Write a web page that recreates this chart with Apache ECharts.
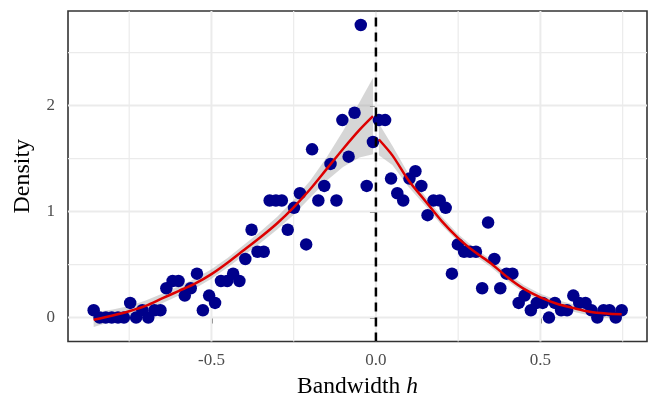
<!DOCTYPE html>
<html><head><meta charset="utf-8">
<script src="https://cdn.jsdelivr.net/npm/echarts@6/dist/echarts.min.js"></script>
<style>html,body{margin:0;padding:0;background:#fff}#c{width:650px;height:398px}</style>
</head><body><div id="c"></div>
<script>
// ---- data ----
const leftX = [-0.858,-0.840,-0.821,-0.803,-0.784,-0.766,-0.747,-0.729,-0.710,-0.692,-0.673,-0.655,-0.637,-0.618,-0.600,-0.581,-0.563,-0.544,-0.526,-0.507,-0.489,-0.471,-0.452,-0.434,-0.415,-0.397,-0.378,-0.360,-0.341,-0.323,-0.304,-0.286,-0.268,-0.249,-0.231,-0.212,-0.194,-0.175,-0.157,-0.138,-0.120,-0.102,-0.083,-0.065,-0.046,-0.028,-0.009];
const leftDensity = [0.069,0,0,0,0,0,0.138,0,0.069,0,0.069,0.069,0.276,0.345,0.345,0.207,0.276,0.414,0.069,0.207,0.138,0.345,0.345,0.414,0.345,0.552,0.828,0.621,0.621,1.104,1.104,1.104,0.828,1.035,1.173,0.690,1.587,1.104,1.242,1.449,1.104,1.863,1.518,1.932,2.760,1.242,1.656];
const rightX = [0.009,0.028,0.046,0.065,0.083,0.102,0.120,0.138,0.157,0.175,0.194,0.212,0.231,0.249,0.268,0.286,0.304,0.323,0.341,0.360,0.378,0.397,0.415,0.434,0.452,0.471,0.489,0.507,0.526,0.544,0.563,0.581,0.600,0.618,0.637,0.655,0.673,0.692,0.710,0.729,0.747];
const rightDensity = [1.863,1.863,1.311,1.173,1.104,1.311,1.380,1.242,0.966,1.104,1.104,1.035,0.414,0.690,0.621,0.621,0.621,0.276,0.897,0.552,0.276,0.414,0.414,0.138,0.207,0.069,0.138,0.138,0,0.138,0.069,0.069,0.207,0.138,0.138,0.069,0,0.069,0.069,0,0.069];

const leftFitX = [-0.858,-0.80,-0.75,-0.70,-0.65,-0.60,-0.55,-0.50,-0.45,-0.40,-0.35,-0.30,-0.25,-0.20,-0.15,-0.10,-0.05,-0.009];
const leftFitY = [-0.02,0.02,0.06,0.11,0.18,0.25,0.32,0.41,0.52,0.64,0.76,0.89,1.04,1.21,1.40,1.59,1.77,1.90];
const leftFitHalf = [0.07,0.055,0.05,0.05,0.045,0.045,0.045,0.045,0.045,0.05,0.055,0.06,0.07,0.08,0.11,0.17,0.26,0.36];
const rightFitX = [0.009,0.05,0.10,0.15,0.20,0.25,0.30,0.35,0.40,0.45,0.50,0.55,0.60,0.65,0.70,0.747];
const rightFitY = [1.68,1.53,1.29,1.10,0.91,0.75,0.62,0.51,0.38,0.27,0.19,0.13,0.09,0.055,0.038,0.03];
const rightFitHalf = [0.15,0.09,0.06,0.045,0.04,0.035,0.035,0.035,0.035,0.035,0.035,0.035,0.035,0.035,0.04,0.05];

const xMajor = [-0.5, 0, 0.5];
const xMinor = [-0.75, -0.25, 0.25, 0.75];
const yMajor = [0, 1, 2];
const yMinor = [0.5, 1.5, 2.5];
const xRange = [-0.936, 0.824];
const yRange = [-0.226, 2.892];

// ---- build ----
const gridLines = [];
xMajor.forEach(v => gridLines.push({d: 'x', v: v, w: 2}));
xMinor.forEach(v => gridLines.push({d: 'x', v: v, w: 1.2}));
yMajor.forEach(v => gridLines.push({d: 'y', v: v, w: 2}));
yMinor.forEach(v => gridLines.push({d: 'y', v: v, w: 1.2}));

function bandItem(xs, ys, hs) {
  return function (params, api) {
    const pts = [];
    for (let i = 0; i < xs.length; i++) pts.push(api.coord([xs[i], ys[i] + hs[i]]));
    for (let i = xs.length - 1; i >= 0; i--) pts.push(api.coord([xs[i], ys[i] - hs[i]]));
    return {type: 'polygon', shape: {points: pts}, style: {fill: 'rgba(153,153,153,0.4)'}, silent: true};
  };
}

const FONT = 'Liberation Serif';
const chart = echarts.init(document.getElementById('c'), null, {renderer: 'canvas'});
chart.setOption({
  animation: false,
  backgroundColor: '#ffffff',
  grid: {left: 68, top: 11, right: 3, bottom: 56.5, show: true, borderColor: '#333333', borderWidth: 1.6, backgroundColor: 'transparent', containLabel: false, outerBoundsMode: 'none'},
  xAxis: {
    type: 'value', min: xRange[0], max: xRange[1],
    axisLine: {show: false},
    splitLine: {show: false},
    axisTick: {show: true, length: 6, lineStyle: {color: '#333333', width: 1.6}, customValues: xMajor},
    axisLabel: {customValues: xMajor, formatter: v => v.toFixed(1), color: '#4D4D4D', fontFamily: FONT, fontSize: 17, margin: 11},
    name: '{a|Bandwidth }{b|h}', nameLocation: 'middle', nameGap: 32,
    nameTextStyle: {rich: {a: {fontFamily: FONT, fontSize: 23.5, color: '#000'}, b: {fontFamily: FONT, fontSize: 23.5, fontStyle: 'italic', color: '#000'}}}
  },
  yAxis: {
    type: 'value', min: yRange[0], max: yRange[1],
    axisLine: {show: false},
    splitLine: {show: false},
    axisTick: {show: true, length: 6, lineStyle: {color: '#333333', width: 1.6}, customValues: yMajor},
    axisLabel: {customValues: yMajor, formatter: v => String(v), color: '#4D4D4D', fontFamily: FONT, fontSize: 17, margin: 13},
    name: 'Density', nameLocation: 'middle', nameGap: 33,
    nameTextStyle: {fontFamily: FONT, fontSize: 24, color: '#000'}
  },
  series: [
    {
      type: 'custom', z: 1, silent: true,
      data: gridLines.map((g, i) => [i]),
      renderItem: function (params, api) {
        const g = gridLines[params.dataIndex];
        const cs = params.coordSys;
        if (g.d === 'x') {
          const p = api.coord([g.v, 0]);
          return {type: 'line', shape: {x1: p[0], y1: cs.y, x2: p[0], y2: cs.y + cs.height}, style: {stroke: '#EBEBEB', lineWidth: g.w}};
        }
        const p = api.coord([0, g.v]);
        return {type: 'line', shape: {x1: cs.x, y1: p[1], x2: cs.x + cs.width, y2: p[1]}, style: {stroke: '#EBEBEB', lineWidth: g.w}};
      }
    },
    {type: 'custom', z: 2, silent: true, data: [[0]], renderItem: bandItem(leftFitX, leftFitY, leftFitHalf)},
    {type: 'custom', z: 2, silent: true, data: [[0]], renderItem: bandItem(rightFitX, rightFitY, rightFitHalf)},
    {
      type: 'scatter', z: 3, symbolSize: 12.5,
      itemStyle: {color: '#00008B', opacity: 1},
      data: leftX.map((x, i) => [x, leftDensity[i]]).concat(rightX.map((x, i) => [x, rightDensity[i]]))
    },
    {
      type: 'line', z: 4, showSymbol: false, smooth: 0.3,
      lineStyle: {color: '#DD0000', width: 2.5},
      data: leftFitX.map((x, i) => [x, leftFitY[i]])
    },
    {
      type: 'line', z: 4, showSymbol: false, smooth: 0.3,
      lineStyle: {color: '#DD0000', width: 2.5},
      data: rightFitX.map((x, i) => [x, rightFitY[i]])
    },
    {
      type: 'line', z: 5, showSymbol: false,
      lineStyle: {color: '#000000', width: 2.5, type: [9, 6]},
      data: [[0, yRange[0]], [0, yRange[1]]]
    }
  ]
});
</script>
</body></html>
